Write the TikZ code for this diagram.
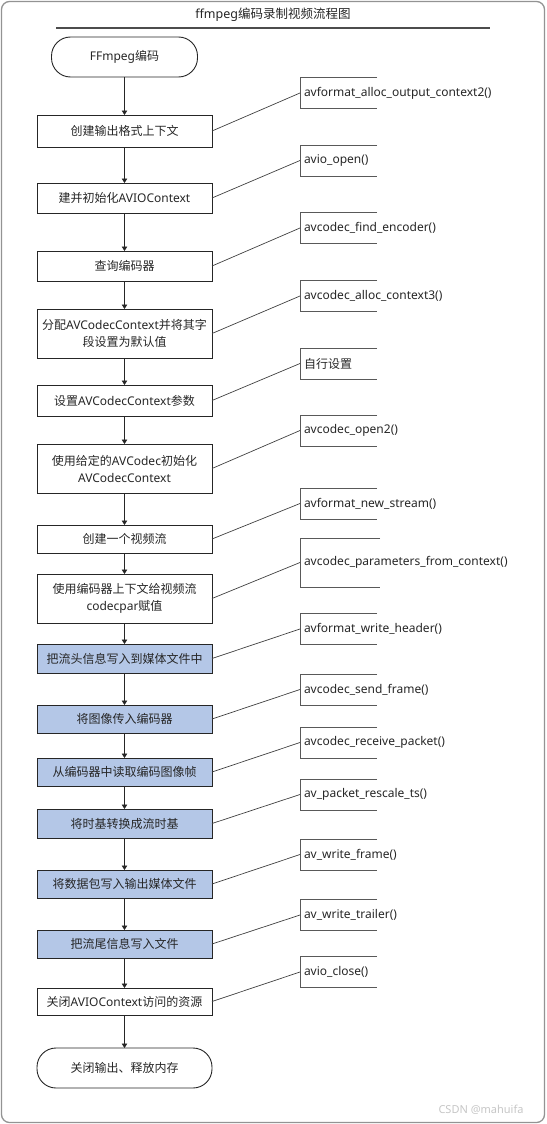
\documentclass[tikz,border=0pt]{standalone}
\usepackage{fontspec}
\setmainfont{Noto Sans CJK SC}
\newfontfamily\apifont{Noto Sans}
\usetikzlibrary{positioning, arrows.meta}

\definecolor{stepblue}{HTML}{B4C7E7}

\tikzset{
  proc/.style={draw=black!85, line width=0.9pt, minimum width=175pt,
    minimum height=28pt, text width=168pt, inner xsep=3.5pt, outer sep=0pt,
    align=center, text=black!85, font=\fontsize{12}{17}\selectfont},
  term/.style={proc, rounded corners=19pt, minimum height=40pt},
  hl/.style={fill=stepblue},
  api/.style={minimum height=31pt, inner xsep=4pt, outer sep=0pt, text=black!85,
    font=\apifont\fontsize{12}{14}\selectfont},
  brk/.style={draw=gray!70!black, line width=0.8pt},
  link/.style={draw=black!75, line width=0.7pt},
  frame/.style={draw=gray!85, line width=1.3pt, rounded corners=8pt}
}

\begin{document}
\begin{tikzpicture}[x=1pt, y=-1pt, >={Triangle[width=5.5pt,length=4.5pt]}]
\useasboundingbox (0,0) rectangle (546,1124);
\draw[frame] (1.5,1.5) rectangle (544.5,1122.5);

\node[text=black!85, font=\fontsize{12.5}{15}\selectfont] (title) at (273,15)
    {{\apifont ffmpeg}编码录制视频流程图};
\draw[draw=black!70, line width=1.2pt] (56,28) -- (490,28);

\node[term, minimum width=146pt, text width=136pt] (s1) at (124.5,57) {{\apifont FFmpeg}编码};
\node[proc, below=38pt of s1, minimum height=32pt] (s2) {创建输出格式上下文};
\node[proc, below=36pt of s2, minimum height=30pt] (s3) {建并初始化{\apifont AVIOContext}};
\node[proc, below=38pt of s3, minimum height=30pt] (s4) {查询编码器};
\node[proc, below=28pt of s4, minimum height=49pt] (s5)
    {分配{\apifont AVCodecContext}并将其字\\段设置为默认值};
\node[proc, below=27pt of s5, minimum height=31pt] (s6) {设置{\apifont AVCodecContext}参数};
\node[proc, below=28pt of s6, minimum height=49pt] (s7)
    {使用给定的{\apifont AVCodec}初始化\\{\apifont AVCodecContext}};
\node[proc, below=32pt of s7] (s8) {创建一个视频流};
\node[proc, below=21pt of s8, minimum height=49pt] (s9)
    {使用编码器上下文给视频流\\{\apifont codecpar}赋值};
\node[proc, hl, below=21pt of s9, minimum height=29pt] (s10) {把流头信息写入到媒体文件中};
\node[proc, hl, below=32pt of s10] (s11) {将图像传入编码器};
\node[proc, hl, below=25pt of s11] (s12) {从编码器中读取编码图像帧};
\node[proc, hl, below=23pt of s12, minimum height=29pt] (s13) {将时基转换成流时基};
\node[proc, hl, below=32pt of s13] (s14) {将数据包写入输出媒体文件};
\node[proc, hl, below=32pt of s14] (s15) {把流尾信息写入文件};
\node[proc, below=30pt of s15, minimum height=27pt] (s16) {关闭{\apifont AVIOContext}访问的资源};
\node[term, below=33pt of s16] (s17) {关闭输出、释放内存};

% function names on the right
\node[api, right=88pt of s2, yshift=38pt] (f1) {avformat\_alloc\_output\_context2()};
\node[api, right=88pt of s3, yshift=37.5pt] (f2) {avio\_open()};
\node[api, right=88pt of s4, yshift=38pt] (f3) {avcodec\_find\_encoder()};
\node[api, right=88pt of s5, yshift=37.5pt] (f4) {avcodec\_alloc\_context3()};
\node[api, right=88pt of s6, yshift=37pt] (f5) {\rmfamily 自行设置};
\node[api, right=88pt of s7, yshift=38pt] (f6) {avcodec\_open2()};
\node[api, right=88pt of s8, yshift=35.5pt] (f7) {avformat\_new\_stream()};
\node[api, right=88pt of s9, yshift=36pt, minimum height=49pt] (f8)
    {avcodec\_parameters\_from\_context()};
\node[api, right=88pt of s10, yshift=29.5pt] (f9) {avformat\_write\_header()};
\node[api, right=88pt of s11, yshift=29.5pt] (f10) {avcodec\_send\_frame()};
\node[api, right=88pt of s12, yshift=29.5pt] (f11) {avcodec\_receive\_packet()};
\node[api, right=88pt of s13, yshift=29pt] (f12) {av\_packet\_rescale\_ts()};
\node[api, right=88pt of s14, yshift=29.5pt] (f13) {av\_write\_frame()};
\node[api, right=88pt of s15, yshift=29pt] (f14) {av\_write\_trailer()};
\node[api, right=88pt of s16, yshift=29.5pt] (f15) {avio\_close()};

\node[text=gray!45, font=\apifont\fontsize{11}{13}\selectfont] (wm) at (481,1110) {CSDN @mahuifa};

\draw[line width=0.9pt, black!85]
    (s1) edge[->] (s2)
    (s2) edge[->] (s3)
    (s3) edge[->] (s4)
    (s4) edge[->] (s5)
    (s5) edge[->] (s6)
    (s6) edge[->] (s7)
    (s7) edge[->] (s8)
    (s8) edge[->] (s9)
    (s9) edge[->] (s10)
    (s10) edge[->] (s11)
    (s11) edge[->] (s12)
    (s12) edge[->] (s13)
    (s13) edge[->] (s14)
    (s14) edge[->] (s15)
    (s15) edge[->] (s16)
    (s16) edge[->] (s17)
    ;

\draw[brk]
    ([xshift=77pt]f1.north west) -| (f1.south west) -- ++(77,0)
    ([xshift=77pt]f2.north west) -| (f2.south west) -- ++(77,0)
    ([xshift=77pt]f3.north west) -| (f3.south west) -- ++(77,0)
    ([xshift=77pt]f4.north west) -| (f4.south west) -- ++(77,0)
    ([xshift=77pt]f5.north west) -| (f5.south west) -- ++(77,0)
    ([xshift=77pt]f6.north west) -| (f6.south west) -- ++(77,0)
    ([xshift=77pt]f7.north west) -| (f7.south west) -- ++(77,0)
    ([xshift=80pt]f8.north west) -| (f8.south west) -- ++(80,0)
    ([xshift=77pt]f9.north west) -| (f9.south west) -- ++(77,0)
    ([xshift=77pt]f10.north west) -| (f10.south west) -- ++(77,0)
    ([xshift=77pt]f11.north west) -| (f11.south west) -- ++(77,0)
    ([xshift=77pt]f12.north west) -| (f12.south west) -- ++(77,0)
    ([xshift=77pt]f13.north west) -| (f13.south west) -- ++(77,0)
    ([xshift=77pt]f14.north west) -| (f14.south west) -- ++(77,0)
    ([xshift=77pt]f15.north west) -| (f15.south west) -- ++(77,0)
    ;

\draw[link]
    (s2.east) -- (f1.west)
    (s3.east) -- (f2.west)
    (s4.east) -- (f3.west)
    (s5.east) -- (f4.west)
    (s6.east) -- (f5.west)
    (s7.east) -- (f6.west)
    (s8.east) -- (f7.west)
    (s9.east) -- (f8.west)
    (s10.east) -- (f9.west)
    (s11.east) -- (f10.west)
    (s12.east) -- (f11.west)
    (s13.east) -- (f12.west)
    (s14.east) -- (f13.west)
    (s15.east) -- (f14.west)
    (s16.east) -- (f15.west)
    ;
\end{tikzpicture}
\end{document}
